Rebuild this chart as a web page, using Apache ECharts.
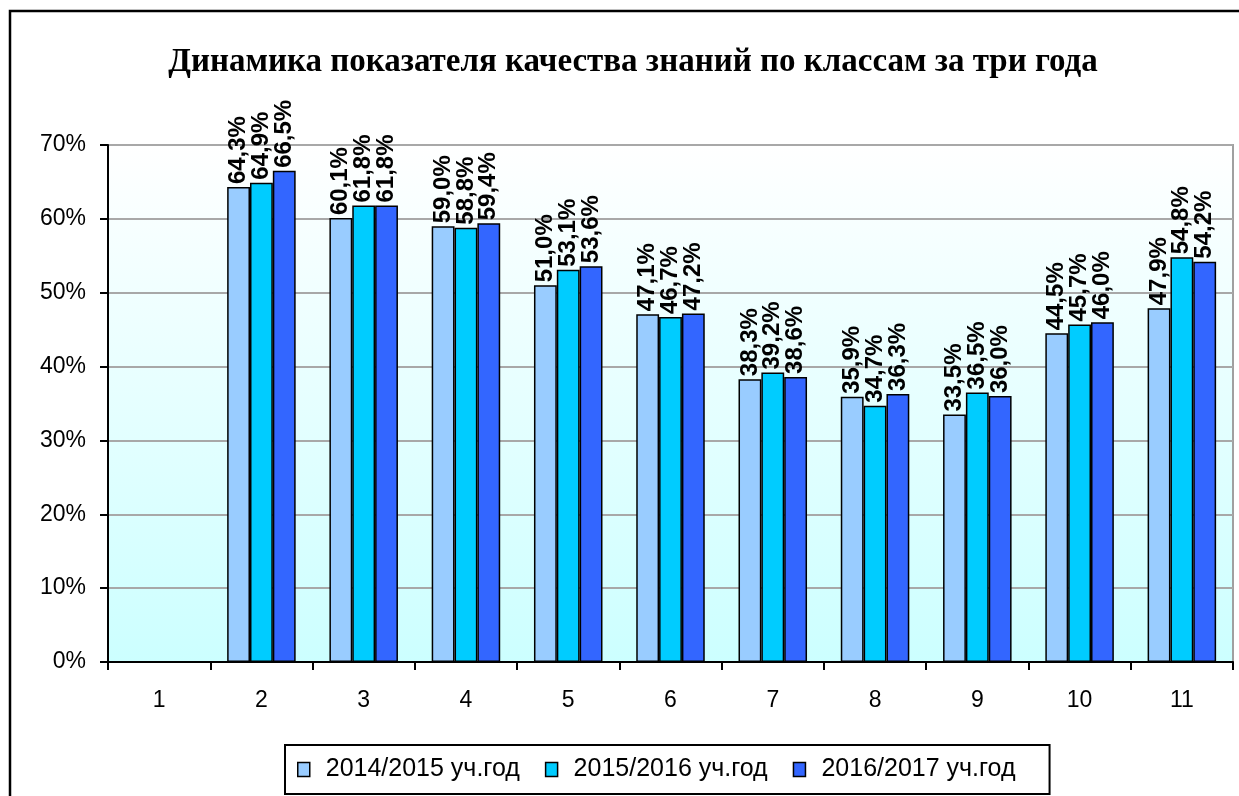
<!DOCTYPE html>
<html>
<head>
<meta charset="utf-8">
<title>Динамика показателя качества знаний</title>
<script src="https://cdn.jsdelivr.net/npm/echarts@6/dist/echarts.min.js"></script>
<style>
  html, body { margin: 0; padding: 0; background: #fff; }
  #chart { width: 1239px; height: 796px; }
</style>
</head>
<body>
<div id="chart"></div>
<script>
// классы
const classes = ['1', '2', '3', '4', '5', '6', '7', '8', '9', '10', '11']
const yearNames = ['2014/2015 уч.год', '2015/2016 уч.год', '2016/2017 уч.год']
// качество знаний, % (для 1 класса нет данных)
const year2014 = [null, 64.3, 60.1, 59.0, 51.0, 47.1, 38.3, 35.9, 33.5, 44.5, 47.9]
const year2015 = [null, 64.9, 61.8, 58.8, 53.1, 46.7, 39.2, 34.7, 36.5, 45.7, 54.8]
const year2016 = [null, 66.5, 61.8, 59.4, 53.6, 47.2, 38.6, 36.3, 36.0, 46.0, 54.2]
const colors = ['#99ccff', '#00ccff', '#3366ff']

const chart = echarts.init(document.getElementById('chart'))

function makeSeries(name, data, color) {
  return {
    name: name,
    type: 'bar',
    data: data,
    barGap: '0%',
    barCategoryGap: '33%',
    itemStyle: { color: color, borderColor: '#000', borderWidth: 1.5 },
    label: {
      show: true,
      position: 'top',
      rotate: 90,
      align: 'left',
      verticalAlign: 'middle',
      distance: 3,
      fontFamily: 'Liberation Sans, Arial, sans-serif',
      fontWeight: 'bold',
      fontSize: 24,
      color: '#000',
      formatter: p => p.value == null ? '' : p.value.toFixed(1).replace('.', ',') + '%'
    }
  }
}

const option = {
  animation: false,
  backgroundColor: '#fff',
  textStyle: { fontFamily: 'Liberation Sans, Arial, sans-serif' },
  title: {
    text: 'Динамика показателя качества знаний по классам за три года',
    left: 628,
    top: 41,
    textAlign: 'center',
    textStyle: {
      fontFamily: 'Liberation Serif, Times New Roman, serif',
      fontWeight: 'bold',
      fontSize: 33,
      color: '#000'
    }
  },
  legend: {
    data: yearNames,
    left: 285,
    top: 745,
    icon: 'rect',
    itemWidth: 12,
    itemHeight: 14,
    itemGap: 25,
    padding: [12, 34, 12, 12],
    borderColor: '#000',
    borderWidth: 2,
    itemStyle: { borderColor: '#000', borderWidth: 1.5 },
    textStyle: { fontSize: 25, color: '#000', padding: [0, 0, 0, 11] }
  },
  graphic: [{
    type: 'rect',
    shape: { x: 10, y: 11, width: 1260, height: 820 },
    style: { fill: null, stroke: '#000', lineWidth: 2.5 },
    silent: true
  }],
  grid: {
    left: 108,
    right: 6,
    top: 145,
    bottom: 134,
    show: true,
    borderColor: '#a0a0a0',
    borderWidth: 2,
    backgroundColor: new echarts.graphic.LinearGradient(0, 0, 0, 1, [
      { offset: 0, color: '#ffffff' },
      { offset: 1, color: '#ccffff' }
    ])
  },
  xAxis: {
    type: 'category',
    data: classes,
    axisLine: { lineStyle: { color: '#000', width: 2 } },
    axisTick: { show: true, length: 8, lineStyle: { color: '#000', width: 2 } },
    axisLabel: { fontSize: 23, color: '#000', margin: 27 }
  },
  yAxis: {
    type: 'value',
    min: 0,
    max: 70,
    interval: 10,
    axisLine: { show: true, lineStyle: { color: '#000', width: 2 } },
    axisTick: { show: true, length: 8, lineStyle: { color: '#000', width: 2 } },
    axisLabel: { fontSize: 23, color: '#000', margin: 22, formatter: '{value}%' },
    splitLine: { lineStyle: { color: '#a8a8a8', width: 2 } }
  },
  series: [
    makeSeries(yearNames[0], year2014, colors[0]),
    makeSeries(yearNames[1], year2015, colors[1]),
    makeSeries(yearNames[2], year2016, colors[2])
  ]
}

chart.setOption(option)
</script>
</body>
</html>
